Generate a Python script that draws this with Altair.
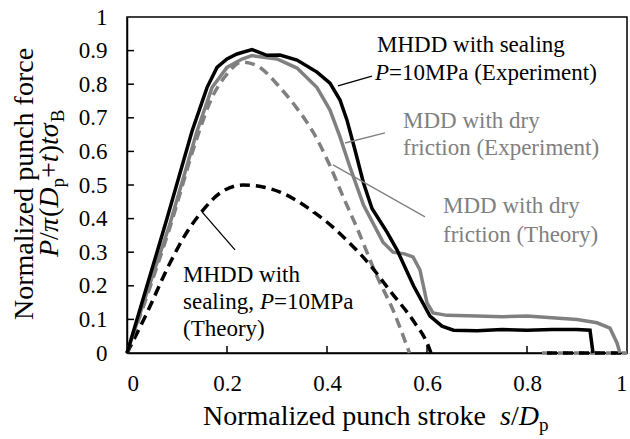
import altair as alt
import pandas as pd

# ---------------- data ----------------
# MHDD with sealing, P=10MPa (Experiment) - black solid
mhdd_exp_x = [0, 0.04, 0.08, 0.13, 0.16, 0.18, 0.2, 0.22, 0.25, 0.28, 0.306, 0.34, 0.38, 0.406,
              0.426, 0.44, 0.456, 0.473, 0.49, 0.52, 0.54, 0.573, 0.606, 0.63, 0.653, 0.7, 0.75,
              0.8, 0.85, 0.9, 0.926, 0.932]
mhdd_exp_y = [0, 0.2, 0.4, 0.66, 0.79, 0.85, 0.875, 0.89, 0.903, 0.886, 0.887, 0.872, 0.836, 0.803,
              0.753, 0.693, 0.604, 0.506, 0.43, 0.36, 0.307, 0.2, 0.11, 0.08, 0.068, 0.066, 0.07,
              0.068, 0.07, 0.07, 0.068, 0]
# MDD with dry friction (Experiment) - grey solid
mdd_exp_x = [0, 0.04, 0.085, 0.14, 0.17, 0.2, 0.23, 0.25, 0.3, 0.34, 0.38, 0.406, 0.426, 0.446,
             0.473, 0.512, 0.532, 0.555, 0.572, 0.586, 0.6, 0.612, 0.64, 0.7, 0.75, 0.8, 0.85,
             0.9, 0.94, 0.966, 0.98, 0.986]
mdd_exp_y = [0, 0.18, 0.38, 0.66, 0.79, 0.85, 0.875, 0.885, 0.875, 0.848, 0.79, 0.723, 0.643, 0.553,
             0.44, 0.33, 0.3, 0.295, 0.286, 0.247, 0.149, 0.119, 0.112, 0.11, 0.108, 0.11, 0.105,
             0.1, 0.09, 0.074, 0.03, 0]
# MDD with dry friction (Theory) - grey dashed
mdd_th_x = [0, 0.04, 0.085, 0.14, 0.17, 0.2, 0.23, 0.26, 0.306, 0.34, 0.372, 0.406, 0.432, 0.46,
            0.5, 0.532, 0.56, 0.565]
mdd_th_y = [0, 0.17, 0.37, 0.64, 0.76, 0.83, 0.866, 0.855, 0.79, 0.728, 0.658, 0.557, 0.466, 0.372,
            0.228, 0.128, 0.02, 0]
mdd_th_tail_x = [0.83, 1.0]
mdd_th_tail_y = [0, 0]
# MHDD with sealing, P=10MPa (Theory) - black dashed
mhdd_th_x = [0, 0.036, 0.086, 0.12, 0.152, 0.186, 0.232, 0.272, 0.306, 0.34, 0.373, 0.41, 0.44,
             0.486, 0.526, 0.573, 0.6, 0.608]
mhdd_th_y = [0, 0.107, 0.268, 0.36, 0.425, 0.476, 0.5, 0.494, 0.479, 0.453, 0.42, 0.377, 0.335,
             0.262, 0.185, 0.095, 0.03, 0]
mhdd_th_tail_x = [0.84, 1.0]
mhdd_th_tail_y = [0, 0]

x_ticks = [0.2, 0.4, 0.6, 0.8]
y_ticks = [0.1, 0.2, 0.3, 0.4, 0.5, 0.6, 0.7, 0.8, 0.9]
x_labels = [0, 0.2, 0.4, 0.6, 0.8, 1]
y_labels = [0, 0.1, 0.2, 0.3, 0.4, 0.5, 0.6, 0.7, 0.8, 0.9, 1]

# annotation texts (data coordinates)
ann_text = ["MHDD with sealing", "P", "=10MPa (Experiment)",
            "MDD with dry", "friction (Experiment)",
            "MDD with dry", "friction (Theory)",
            "MHDD with", "sealing, ", "P", "=10MPa", "(Theory)"]
ann_x = [0.5, 0.496, 0.524, 0.552, 0.552, 0.632, 0.632, 0.112, 0.112, 0.266, 0.294, 0.112]
ann_y = [0.896, 0.8125, 0.8125, 0.670, 0.589, 0.417, 0.330, 0.211, 0.131, 0.131, 0.131, 0.051]
ann_color = ["black", "black", "black", "grey", "grey", "grey", "grey",
             "black", "black", "black", "black", "black"]
ann_italic = [False, True, False, False, False, False, False, False, False, True, False, False]

# leader lines (data coordinates)
lead_x = [0.422, 0.436, 0.412, 0.15]
lead_y = [0.795, 0.625, 0.56, 0.42]
lead_x2 = [0.49, 0.516, 0.596, 0.216]
lead_y2 = [0.824, 0.655, 0.405, 0.307]
lead_color = ["black", "grey", "grey", "black"]

GREY = "#808080"
FONT = "Liberation Serif"

# ---------------- build tables ----------------
rows = []
def add(name, seg, xs, ys):
    for i, (a, b) in enumerate(zip(xs, ys)):
        rows.append({"series": name, "seg": name + str(seg), "i": i, "x": a, "y": b})

add("mdd_th", 0, mdd_th_x, mdd_th_y)
add("mdd_th", 1, mdd_th_tail_x, mdd_th_tail_y)
add("mhdd_th", 0, mhdd_th_x, mhdd_th_y)
add("mhdd_th", 1, mhdd_th_tail_x, mhdd_th_tail_y)
add("mdd_exp", 0, mdd_exp_x, mdd_exp_y)
add("mhdd_exp", 0, mhdd_exp_x, mhdd_exp_y)
df = pd.DataFrame(rows)

xs = alt.Scale(domain=[0, 1], nice=False)
ys = alt.Scale(domain=[0, 1], nice=False)
XAX = alt.Axis(values=x_labels, format="~g", title=None, labelOverlap=False,
               ticks=False, grid=False, labelPadding=19)
YAX = alt.Axis(values=y_labels, format="~g", title=None, labelOverlap=False,
               ticks=False, grid=False, labelPadding=20)

def X(field, **kw):
    return alt.X(field, scale=xs, axis=XAX, **kw)

def Y(field, **kw):
    return alt.Y(field, scale=ys, axis=YAX, **kw)

def line_layer(name, color, dash, interp):
    kw = dict(color=color, strokeWidth=3.5, interpolate=interp, clip=False)
    if dash:
        kw["strokeDash"] = dash
    return alt.Chart(df[df.series == name]).mark_line(**kw).encode(
        x=X("x:Q"), y=Y("y:Q"), detail="seg:N", order="i:Q")

lines = [
    line_layer("mdd_th", GREY, [10, 6], "monotone"),
    line_layer("mhdd_th", "black", [10, 6], "monotone"),
    line_layer("mdd_exp", GREY, None, "linear"),
    line_layer("mhdd_exp", "black", None, "linear"),
]

# inward ticks (length in data units: 7 px)
xt = pd.DataFrame({"x": x_ticks, "y0": [0.0] * len(x_ticks), "y1": [7 / 336] * len(x_ticks)})
yt = pd.DataFrame({"y": y_ticks, "x0": [0.0] * len(y_ticks), "x1": [7 / 500] * len(y_ticks)})
xtick_layer = alt.Chart(xt).mark_rule(color="black", strokeWidth=1.5).encode(
    x=X("x:Q"), y=Y("y0:Q"), y2="y1:Q")
ytick_layer = alt.Chart(yt).mark_rule(color="black", strokeWidth=1.5).encode(
    y=Y("y:Q"), x=X("x0:Q"), x2="x1:Q")

# leader lines
ld = pd.DataFrame({"x": lead_x, "y": lead_y, "x2": lead_x2, "y2": lead_y2, "c": lead_color})
CSCALE = alt.Scale(domain=["black", "grey"], range=["black", GREY])
lead_layer = alt.Chart(ld).mark_rule(strokeWidth=1.3).encode(
    x=X("x:Q"), y=Y("y:Q"), x2="x2:Q", y2="y2:Q",
    color=alt.Color("c:N", scale=CSCALE, legend=None))

ad = pd.DataFrame({"t": ann_text, "x": ann_x, "y": ann_y, "c": ann_color, "it": ann_italic})
def ann_layer(italic):
    return alt.Chart(ad[ad.it == italic]).mark_text(
        font=FONT, fontSize=23, align="left", baseline="alphabetic",
        fontStyle="italic" if italic else "normal").encode(
        x=X("x:Q"), y=Y("y:Q"), text="t:N",
        color=alt.Color("c:N", scale=CSCALE, legend=None))

# ---------------- axis titles (rich text pieces, pixel layout) ----------------
OX, OY = 127, 17  # plot origin in the page
WIDTH = {("P", 1): 611, ("/", 0): 278, ("π", 1): 540, ("(", 0): 333, ("D", 1): 722,
         ("p", 0): 500, ("+", 0): 564, ("t", 1): 278, (")", 0): 333, ("σ", 1): 540,
         ("B", 0): 667, ("s", 1): 389}

# y title line 2: P/π(Dp+t)tσB  (text, italic, subscript)
ytitle2 = [("P", 1, 0), ("/", 0, 0), ("π", 1, 0), ("(", 0, 0), ("D", 1, 0), ("p", 0, 1),
           ("+", 0, 0), ("t", 1, 0), (")", 0, 0), ("t", 1, 0), ("σ", 1, 0), ("B", 0, 1)]
F2, FS = 28, 19
pos = 257.0
yrows = [{"t": "Normalized punch force", "px": 33 - OX, "py": 320 - OY, "it": 0, "fs": 28}]
for t, it, sub in ytitle2:
    fs = FS if sub else F2
    yrows.append({"t": t, "px": (64 if sub else 58) - OX, "py": pos - OY, "it": it, "fs": fs})
    pos -= WIDTH[(t, it)] * fs / 1000.0
ydf = pd.DataFrame(yrows)

xtitle = [("Normalized punch stroke  ", 0, 0), ("s", 1, 0), ("/", 0, 0), ("D", 1, 0), ("p", 0, 1)]
xrows = []
xpos = 203.0
for t, it, sub in xtitle:
    fs = 19 if sub else 28
    xrows.append({"t": t, "px": xpos - OX, "py": (431 if sub else 425) - OY, "it": it, "fs": fs})
    if len(t) > 1:
        xpos += 10609 * 28 / 1000.0
    else:
        xpos += WIDTH[(t, it)] * fs / 1000.0
xdf = pd.DataFrame(xrows)

def title_layer(d, italic, angle):
    kw = dict(font=FONT, align="left", baseline="alphabetic", color="black",
              fontStyle="italic" if italic else "normal")
    if angle:
        kw["angle"] = angle
    return alt.Chart(d[d.it == italic]).mark_text(**kw).encode(
        x=alt.X("px:Q", scale=None), y=alt.Y("py:Q", scale=None), text="t:N",
        size=alt.Size("fs:Q", scale=None, legend=None))

layers = lines + [xtick_layer, ytick_layer, lead_layer, ann_layer(False), ann_layer(True),
                  title_layer(ydf, 0, 270), title_layer(ydf, 1, 270),
                  title_layer(xdf, 0, 0), title_layer(xdf, 1, 0)]

chart = alt.layer(*layers).properties(
    width=500, height=336,
    padding={"left": 127, "top": 17, "right": 3, "bottom": 86},
    autosize=alt.AutoSizeParams(type="none"),
).configure_view(stroke="black", strokeWidth=1.5).configure_axis(
    labelFont=FONT, labelFontSize=23, labelColor="black",
    domainColor="black", domainWidth=1.5,
).resolve_scale(color="independent")

chart.save("out.html", embed_options={"renderer": "svg", "actions": False})
